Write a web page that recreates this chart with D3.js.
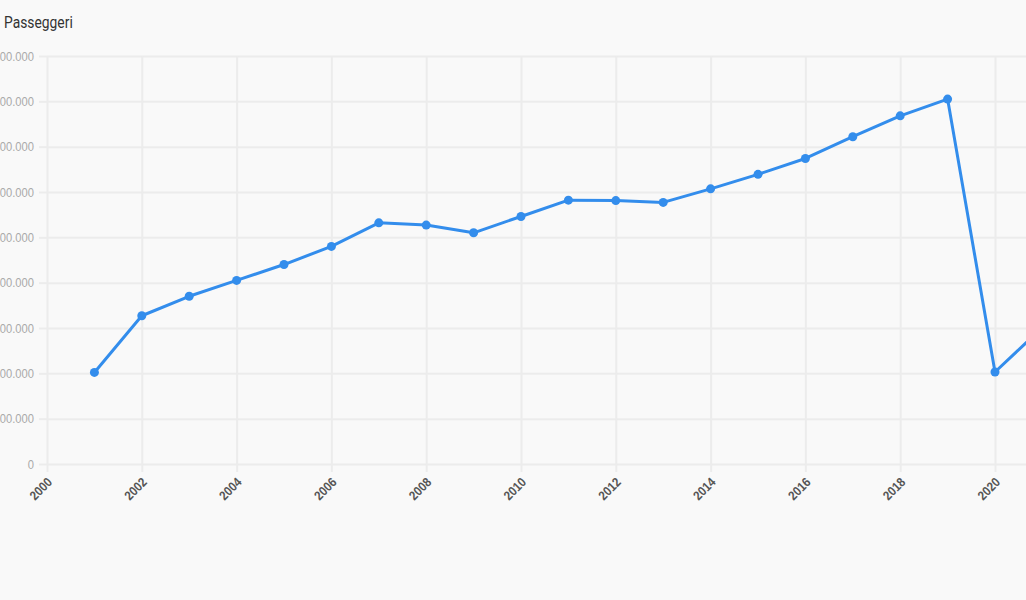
<!DOCTYPE html>
<html>
<head>
<meta charset="utf-8">
<script src="https://cdn.jsdelivr.net/npm/d3@7"></script>
<style>
  html, body { margin: 0; padding: 0; background: #f9f9f9; }
  svg { display: block; font-family: Roboto, "Noto Sans", sans-serif; }
</style>
</head>
<body>
<svg id="chart" width="1026" height="600"></svg>
<script>
const years = [2001, 2002, 2003, 2004, 2005, 2006, 2007, 2008, 2009, 2010, 2011,
               2012, 2013, 2014, 2015, 2016, 2017, 2018, 2019, 2020, 2021];
const passengers = [202000, 327000, 370000, 405000, 440000, 480000, 532000, 527000,
                    510000, 546000, 582000, 581000, 577000, 607000, 639000, 674000,
                    722000, 768000, 805000, 203000, 301000];
const xTicks = [2000, 2002, 2004, 2006, 2008, 2010, 2012, 2014, 2016, 2018, 2020, 2022];
const yTicks = [0, 100000, 200000, 300000, 400000, 500000, 600000, 700000, 800000, 900000];
const titleText = "Passeggeri";

const svg = d3.select("#chart");
const W = 1026, H = 600;
svg.append("rect").attr("width", W).attr("height", H).attr("fill", "#f9f9f9");

const mLeft = 47, mTop = 56, mBottom = 464;
const x = d3.scaleLinear().domain([2000, 2022]).range([mLeft, mLeft + 22 * 47.4]);
const y = d3.scaleLinear().domain([0, 900000]).range([mBottom, mTop]);
const it = d3.formatLocale({decimal: ",", thousands: ".", grouping: [3], currency: ["€", ""]});
const fmt = it.format(",");

// horizontal grid + y ticks
const yAxis = svg.append("g").attr("transform", `translate(${mLeft},0)`)
  .call(d3.axisLeft(y).tickValues(yTicks).tickFormat(fmt).tickSize(8).tickPadding(5));
yAxis.select(".domain").remove();
yAxis.selectAll(".tick line").attr("stroke", "#ececec").attr("stroke-width", 2);
yAxis.selectAll(".tick text").attr("fill", "#aaaaaa").attr("font-size", 13)
  .attr("x", 0).attr("transform", "translate(-13,0) scale(0.86,1)");
yAxis.selectAll(".tick").append("line")
  .attr("x1", 0).attr("x2", W).attr("stroke", "#ececec").attr("stroke-width", 2);

// vertical grid + x ticks
const xAxis = svg.append("g").attr("transform", `translate(0,${mBottom})`)
  .call(d3.axisBottom(x).tickValues(xTicks).tickFormat(d3.format("d")).tickSize(8).tickPadding(4));
xAxis.select(".domain").remove();
xAxis.selectAll(".tick line").attr("stroke", "#ececec").attr("stroke-width", 2);
xAxis.selectAll(".tick").append("line")
  .attr("y1", 0).attr("y2", mTop - mBottom).attr("stroke", "#ececec").attr("stroke-width", 2);
xAxis.selectAll(".tick text")
  .attr("fill", "#555").attr("font-size", 13).attr("font-weight", "bold")
  .attr("text-anchor", "end").attr("dy", 0).attr("y", 0).attr("x", 0)
  .attr("transform", "translate(5.5,19) rotate(-45) scale(0.88,1)");

// line
const line = d3.line().x((d, i) => x(years[i])).y(d => y(d));
svg.append("path").datum(passengers)
  .attr("fill", "none").attr("stroke", "#338dec").attr("stroke-width", 3)
  .attr("stroke-linejoin", "round").attr("d", line);
svg.selectAll("circle.pt").data(passengers).enter().append("circle")
  .attr("class", "pt").attr("cx", (d, i) => x(years[i])).attr("cy", d => y(d))
  .attr("r", 4.5).attr("fill", "#338dec");

// title
svg.append("text").attr("x", 0).attr("y", 0).attr("font-size", 16.5)
  .attr("transform", "translate(4,28) scale(0.84,1)")
  .attr("fill", "#333").text(titleText);
</script>
</body>
</html>
